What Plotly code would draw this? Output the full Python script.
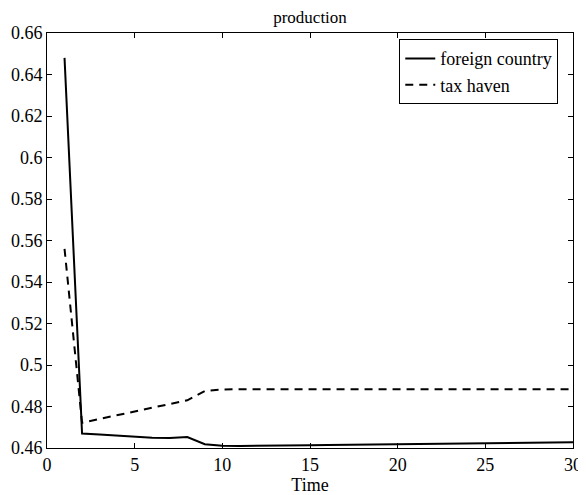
import plotly.graph_objects as go

time = list(range(1, 31))
foreign_country = [0.648, 0.4670, 0.4665, 0.4659, 0.4653, 0.4649, 0.4648, 0.4653, 0.4618, 0.4611,
                   0.4610, 0.4610, 0.4611, 0.4612, 0.4613, 0.4614, 0.4615, 0.4616, 0.4617, 0.4618,
                   0.4619, 0.4620, 0.4621, 0.4622, 0.4623, 0.4624, 0.4625, 0.4626, 0.4627, 0.4628]
tax_haven = [0.556, 0.4722, 0.4740, 0.4758, 0.4775, 0.4793, 0.4811, 0.4830, 0.4875, 0.4882,
             0.4883, 0.4883, 0.4883, 0.4883, 0.4883, 0.4883, 0.4883, 0.4883, 0.4883, 0.4883,
             0.4883, 0.4883, 0.4883, 0.4883, 0.4883, 0.4883, 0.4883, 0.4883, 0.4883, 0.4883]
x_ticks = [0, 5, 10, 15, 20, 25, 30]
y_ticks = [0.46, 0.48, 0.5, 0.52, 0.54, 0.56, 0.58, 0.6, 0.62, 0.64, 0.66]
y_labels = ["0.46", "0.48", "0.5", "0.52", "0.54", "0.56", "0.58", "0.6", "0.62", "0.64", "0.66"]

fig = go.Figure()
fig.add_trace(go.Scatter(x=time, y=foreign_country, mode="lines", name="foreign country",
                         line=dict(color="black", width=2)))
fig.add_trace(go.Scatter(x=time, y=tax_haven, mode="lines", name="tax haven",
                         line=dict(color="black", width=2, dash="8px,6px")))

font = "Liberation Serif, Times New Roman, serif"
# page body has an 8px default margin, so the figure is sized to fit the 586x495 window
fig.update_layout(
    width=578, height=487,
    margin=dict(l=39, r=13, t=25, b=47),
    paper_bgcolor="white", plot_bgcolor="white",
    font=dict(family=font, size=18, color="black"),
    title=dict(text="production", xref="paper", x=0.5, xanchor="center",
               yref="container", y=0.993, yanchor="top", pad=dict(t=0, b=0),
               font=dict(family=font, size=17, color="black")),
    legend=dict(x=0.972, xanchor="right", y=0.985, yanchor="top",
                bordercolor="black", borderwidth=1, bgcolor="white",
                font=dict(family=font, size=18, color="black"),
                tracegroupgap=0, itemwidth=30),
    showlegend=True,
)
fig.update_xaxes(range=[0, 30], tickvals=x_ticks, ticks="inside", ticklen=5,
                 showline=True, linecolor="black", linewidth=1, mirror="ticks",
                 showgrid=False, zeroline=False, tickcolor="black", automargin=False,
                 tickfont=dict(family=font, size=18),
                 title=dict(text="Time", standoff=0, font=dict(family=font, size=18)))
fig.update_yaxes(range=[0.46, 0.66], tickvals=y_ticks, ticktext=y_labels, ticks="inside", ticklen=5,
                 showline=True, linecolor="black", linewidth=1, mirror="ticks",
                 showgrid=False, zeroline=False, tickcolor="black", automargin=False,
                 tickfont=dict(family=font, size=18))

fig.write_html("out.html")
